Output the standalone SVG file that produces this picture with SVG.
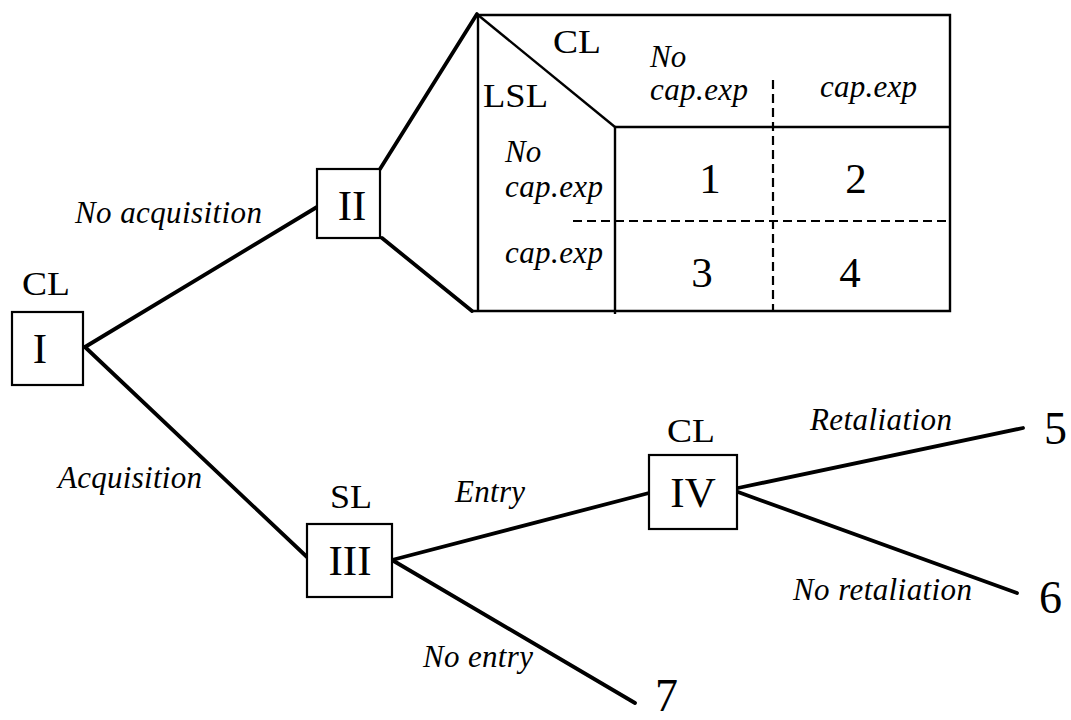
<svg xmlns="http://www.w3.org/2000/svg" width="1071" height="720" viewBox="0 0 1071 720">
<style>
.box{fill:#fff;stroke:#000;stroke-width:2.2}
.edge{stroke:#000;stroke-width:3.8;fill:none;stroke-linecap:round}
.tl{stroke:#000;stroke-width:2.4;fill:none}
.dash{stroke:#000;stroke-width:2.2;stroke-dasharray:9 5;fill:none}
text{font-family:"Liberation Serif","Times New Roman",serif;fill:#000}
.lbl{font-style:italic;font-size:31px}
.pl{font-size:34px}
.rn{font-size:43px;text-anchor:middle}
.num{font-size:46px}
.cell{font-size:43px;text-anchor:middle}
</style>
<rect width="1071" height="720" fill="#fff"/>
<g id="connectors">
<line class="edge" x1="85" y1="347" x2="317" y2="207"/>
<line class="edge" x1="85" y1="347" x2="307" y2="557"/>
<line class="edge" x1="380" y1="169" x2="477" y2="14"/>
<line class="edge" x1="382" y1="238" x2="472" y2="311"/>
<line class="edge" x1="392" y1="560" x2="649" y2="493"/>
<line class="edge" x1="392" y1="560" x2="635" y2="703"/>
<line class="edge" x1="738" y1="488" x2="1023" y2="428"/>
<line class="edge" x1="738" y1="492" x2="1017" y2="593"/>
</g>
<g id="edge-labels">
<text class="lbl" x="75" y="223" textLength="187" lengthAdjust="spacing">No acquisition</text>
<text class="lbl" x="58" y="488" textLength="144" lengthAdjust="spacing">Acquisition</text>
<text class="lbl" x="455" y="502" textLength="70" lengthAdjust="spacing">Entry</text>
<text class="lbl" x="423" y="667" textLength="110" lengthAdjust="spacing">No entry</text>
<text class="lbl" x="810" y="430" textLength="142" lengthAdjust="spacing">Retaliation</text>
<text class="lbl" x="793" y="600" textLength="179" lengthAdjust="spacing">No retaliation</text>
</g>
<g id="node-I">
<text class="pl" x="22" y="295" textLength="48" lengthAdjust="spacingAndGlyphs">CL</text>
<rect class="box" x="12" y="312" width="71" height="73"/>
<text class="rn" x="40" y="363">I</text>
</g>
<g id="node-II">
<rect class="box" x="317" y="169" width="63" height="69"/>
<text class="rn" x="352" y="220">II</text>
</g>
<g id="node-III">
<text class="pl" x="330" y="508" textLength="42" lengthAdjust="spacingAndGlyphs">SL</text>
<rect class="box" x="307" y="524" width="85" height="73"/>
<text class="rn" x="350" y="575">III</text>
</g>
<g id="node-IV">
<text class="pl" x="667" y="442" textLength="48" lengthAdjust="spacingAndGlyphs">CL</text>
<rect class="box" x="649" y="455" width="88" height="74"/>
<text class="rn" x="693" y="507">IV</text>
</g>
<g id="outcome-5"><text class="num" x="1044" y="444">5</text></g>
<g id="outcome-6"><text class="num" x="1039" y="613">6</text></g>
<g id="outcome-7"><text class="num" x="655" y="711">7</text></g>
<g id="payoff-table">
<polyline class="tl" points="478,311 478,15 950,15 950,311 472,311"/>
<line class="tl" x1="478" y1="15" x2="615" y2="127"/>
<line class="tl" x1="615" y1="127" x2="950" y2="127"/>
<line class="tl" x1="615" y1="127" x2="615" y2="314"/>
<line class="dash" x1="773" y1="80" x2="773" y2="311"/>
<line class="dash" x1="573" y1="221" x2="950" y2="221"/>
<text class="pl" x="553" y="53" textLength="48" lengthAdjust="spacingAndGlyphs">CL</text>
<text class="pl" x="483" y="107" textLength="65" lengthAdjust="spacingAndGlyphs">LSL</text>
<text class="lbl" x="650" y="67">No</text>
<text class="lbl" x="650" y="100" textLength="98" lengthAdjust="spacing">cap.exp</text>
<text class="lbl" x="820" y="97" textLength="97" lengthAdjust="spacing">cap.exp</text>
<text class="lbl" x="505" y="162">No</text>
<text class="lbl" x="505" y="197" textLength="98" lengthAdjust="spacing">cap.exp</text>
<text class="lbl" x="505" y="263" textLength="98" lengthAdjust="spacing">cap.exp</text>
<text class="cell" x="710" y="193">1</text>
<text class="cell" x="856" y="193">2</text>
<text class="cell" x="702" y="287">3</text>
<text class="cell" x="850" y="287">4</text>
</g>
</svg>
